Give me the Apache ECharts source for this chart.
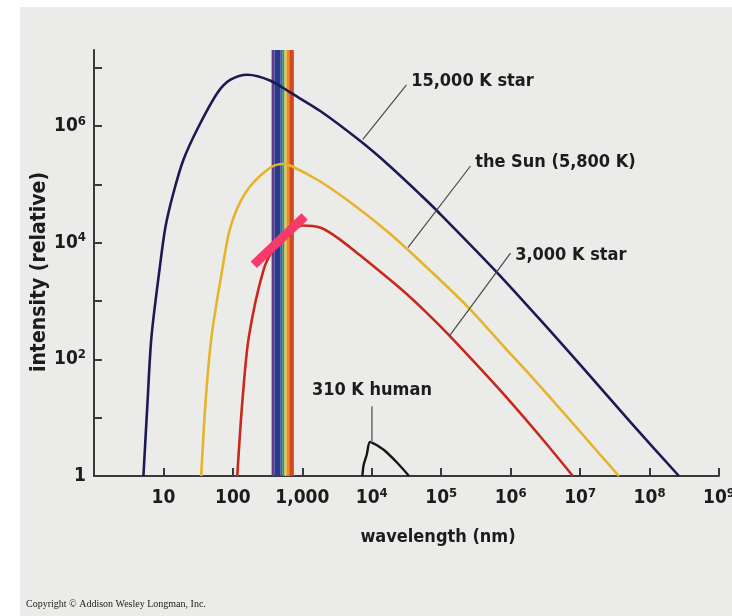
<!DOCTYPE html>
<html>
<head>
<meta charset="utf-8">
<script src="https://cdn.jsdelivr.net/npm/echarts@6/dist/echarts.min.js"></script>
<style>
  html, body { margin: 0; padding: 0; background: #fff; }
  #chart { width: 732px; height: 616px; }
</style>
</head>
<body>
<div id="chart"></div>
<script>
// wavelength (nm) / relative intensity
const star15000Wl = [5.15, 5.89, 6.72, 8.77, 10.7, 13.95, 19.4, 32, 60.1, 92.5, 163, 349, 678, 1834, 6920, 16950, 50700, 89100, 653000, 3.79e6, 1.03e7, 5.39e7, 2.65e8];
const star15000Int = [1, 17.9, 242, 3415, 18660, 71500, 263000, 968000, 3.71e6, 6.2e6, 7.55e6, 5.96e6, 3.71e6, 1.78e6, 544000, 220000, 65500, 34100, 2974, 297, 78, 8.2, 1];

const sunWl = [35, 40.3, 49.2, 70.2, 92.5, 152, 313, 514, 678, 1834, 5480, 16950, 50700, 241000, 908000, 1.95e6, 5.83e6, 1.8e7, 3.62e7];
const sunInt = [1, 17.9, 242, 3415, 18660, 71500, 177000, 222000, 207600, 110400, 44500, 15300, 4690, 792, 139, 51.9, 12.0, 2.58, 1];

const star3000Wl = [115.6, 136.4, 169.8, 276.6, 412, 634, 1000, 1834, 3220, 6920, 26100, 59800, 128300, 698000, 2.63e6, 7.87e6];
const star3000Int = [1, 17.9, 242, 3415, 8810, 14700, 19650, 17950, 12080, 5940, 1613, 650, 262, 29.9, 4.85, 1];

const humanWl = [7320, 7640, 8440, 9420, 11000, 15000, 23400, 34400];
const humanInt = [1, 1.54, 2.29, 3.83, 3.54, 2.79, 1.67, 1];

// visible band stripes (nm edges) and their colours
const visibleEdges = [361, 398, 486, 520, 555, 593, 649, 755];
const visibleColors = ['#5d3b8f', '#2b3a8c', '#2f63a8', '#3f9a4a', '#e5d23a', '#e98a2c', '#d4471f'];

// leader lines: [point on curve, label end]
const leaderTexts = ['15,000 K star', 'the Sun (5,800 K)', '3,000 K star', '310 K human'];
const leaderPoints = [
  [[7390, 580000], [31800, 5.09e6]],
  [[32900, 8140], [266000, 207600]],
  [[128200, 242], [1.0e6, 6680]],
  [[10050, 3.88], [10050, 15.9]]
];

// pink marker stroke on top of the figure
const markerStroke = [[200, 4160], [1079, 28000]];

const xTicks = [10, 100, 1000, 1e4, 1e5, 1e6, 1e7, 1e8, 1e9];
const yTicks = [1, 10, 100, 1000, 1e4, 1e5, 1e6, 1e7];
const yLabels = [1, 100, 1e4, 1e6];

const FONT = "'Liberation Sans Narrow', 'DejaVu Sans Condensed', sans-serif";
const INK = '#1c1c1c';

const rich = {
  b: { fontFamily: FONT, fontWeight: 'bold', fontSize: 19, color: INK, lineHeight: 22 },
  s: { fontFamily: FONT, fontWeight: 'bold', fontSize: 13, color: INK, lineHeight: 13, verticalAlign: 'top' }
};
function xLabel(v) {
  const e = Math.round(Math.log10(v));
  if (e <= 3) return '{b|' + Math.pow(10, e).toLocaleString('en-US') + '}';
  return '{b|10}{s|' + e + '}';
}
function yLabel(v) {
  const e = Math.round(Math.log10(v));
  if (e === 0) return '{b|1}';
  return '{b|10}{s|' + e + '}';
}

const curve = (wl, val, color, width) => ({
  type: 'line',
  data: wl.map((w, i) => [w, val[i]]),
  showSymbol: false,
  smooth: 0.3,
  silent: true,
  z: 3,
  lineStyle: { color: color, width: width }
});

const leaderSeries = leaderPoints.map((pts, i) => ({
  type: 'line',
  silent: true,
  showSymbol: true,
  symbolSize: 1,
  z: 4,
  itemStyle: { color: 'rgba(0,0,0,0)' },
  lineStyle: { color: '#4a4a4a', width: 1.2 },
  data: [
    { value: pts[0] },
    {
      value: pts[1],
      label: {
        show: true,
        formatter: leaderTexts[i],
        position: i === 3 ? 'top' : 'right',
        distance: i === 3 ? 5 : 3,
        offset: i === 2 ? [0, 2] : (i === 3 ? [0, 0] : [0, -3]),
        fontFamily: FONT,
        fontWeight: 'bold',
        fontSize: 18,
        color: INK
      }
    }
  ]
}));

const chart = echarts.init(document.getElementById('chart'));
chart.setOption({
  animation: false,
  backgroundColor: '#ffffff',
  graphic: [
    { type: 'rect', z: -10, shape: { x: 20, y: 7, width: 712, height: 609 }, style: { fill: '#ebebe9' } },
    {
      type: 'text', left: 26, top: 599,
      style: { text: 'Copyright \u00a9 Addison Wesley Longman, Inc.', fontFamily: "'Liberation Serif', serif", fontSize: 10, fill: '#222' }
    }
  ],
  grid: { left: 94, right: 13, top: 50, bottom: 140, outerBoundsMode: 'none' },
  xAxis: {
    type: 'log',
    logBase: 10,
    min: 1,
    max: 1e9,
    name: 'wavelength (nm)',
    nameLocation: 'middle',
    nameGap: 52,
    nameMoveOverlap: false,
    nameTextStyle: { fontFamily: FONT, fontWeight: 'bold', fontSize: 18, color: INK, padding: [0, 0, 0, 63] },
    axisLine: { lineStyle: { color: '#3a3a3a', width: 2 } },
    axisTick: { show: true, inside: true, length: 8, customValues: xTicks, lineStyle: { color: '#3a3a3a', width: 2 } },
    axisLabel: { customValues: xTicks, margin: 11, formatter: xLabel, rich: rich },
    splitLine: { show: false }
  },
  yAxis: {
    type: 'log',
    logBase: 10,
    min: 1,
    max: 2e7,
    name: 'intensity (relative)',
    nameLocation: 'middle',
    nameRotate: 90,
    nameGap: 44,
    nameMoveOverlap: false,
    nameTextStyle: { fontFamily: FONT, fontWeight: 'bold', fontSize: 21, color: INK, padding: [0, 18, 0, 0] },
    axisLine: { lineStyle: { color: '#3a3a3a', width: 2 } },
    axisTick: { show: true, inside: true, length: 8, customValues: yTicks, lineStyle: { color: '#3a3a3a', width: 2 } },
    axisLabel: { customValues: yLabels, margin: 8, formatter: yLabel, rich: rich },
    splitLine: { show: false }
  },
  series: [
    {
      type: 'line',
      data: [],
      z: 1,
      silent: true,
      markArea: {
        silent: true,
        data: visibleColors.map((c, i) => [
          { xAxis: visibleEdges[i], itemStyle: { color: c, opacity: 1 } },
          { xAxis: visibleEdges[i + 1] }
        ])
      }
    },
    curve(star15000Wl, star15000Int, '#1b1a55', 2.6),
    curve(sunWl, sunInt, '#e5b42a', 2.6),
    curve(star3000Wl, star3000Int, '#c9281c', 2.6),
    curve(humanWl, humanInt, '#151515', 2.4),
    ...leaderSeries,
    {
      type: 'line',
      data: markerStroke,
      showSymbol: false,
      silent: true,
      z: 6,
      lineStyle: { color: '#f83a6a', width: 9, cap: 'butt' }
    }
  ]
});
</script>
</body>
</html>
